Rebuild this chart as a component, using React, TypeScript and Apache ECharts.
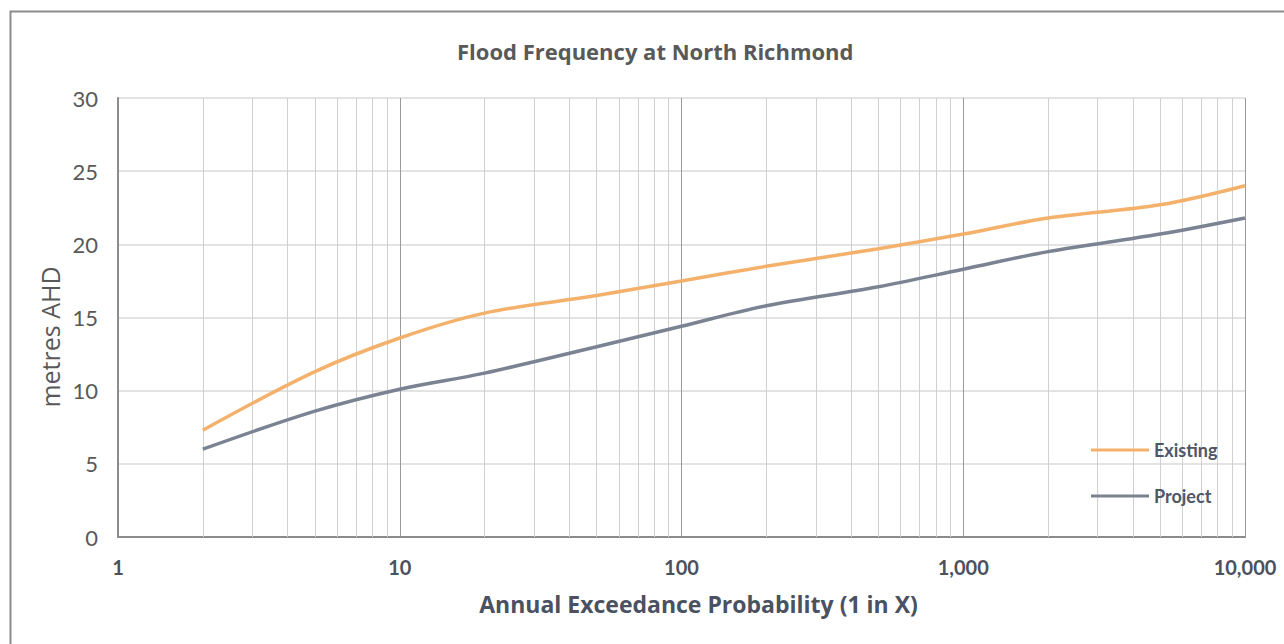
import React, { useEffect, useRef } from "react";
import * as echarts from "echarts";

const aepX = [2, 5, 10, 20, 50, 100, 200, 500, 1000, 2000, 5000, 10000];
const existing = [7.3, 11.3, 13.6, 15.3, 16.5, 17.5, 18.5, 19.7, 20.7, 21.8, 22.7, 24.0];
const project = [6.0, 8.6, 10.1, 11.2, 13.0, 14.4, 15.8, 17.1, 18.3, 19.5, 20.7, 21.8];
const minorGridX = [
  2, 3, 4, 5, 6, 7, 8, 9,
  20, 30, 40, 50, 60, 70, 80, 90,
  200, 300, 400, 500, 600, 700, 800, 900,
  2000, 3000, 4000, 5000, 6000, 7000, 8000, 9000,
];
const yTicks = [0, 5, 10, 15, 20, 25, 30];

const FONT = "Lato, 'Open Sans', sans-serif";
const WIDE = "'Open Sans', Lato, sans-serif";

export default function App() {
  const ref = useRef<HTMLDivElement>(null);
  useEffect(() => {
    if (!ref.current) return;
    const chart = echarts.init(ref.current, undefined, { renderer: "svg" });
    const option: any = {
      animation: false,
      backgroundColor: "#ffffff",
      textStyle: { fontFamily: FONT },
      title: {
        text: "Flood Frequency at North Richmond",
        left: 452,
        top: 35,
        textStyle: { fontFamily: WIDE, fontSize: 22, fontWeight: "bold", color: "#595959" },
      },
      graphic: [
        {
          type: "rect",
          shape: { x: 10.5, y: 11.5, width: 1320, height: 700 },
          style: { fill: "none", stroke: "#8c8c8c", lineWidth: 2 },
          silent: true,
          z: 0,
        },
        {
          type: "text",
          x: 50,
          y: 337,
          rotation: Math.PI / 2,
          silent: true,
          style: {
            text: "metres AHD",
            fontFamily: WIDE,
            fontSize: 25,
            fill: "#595959",
            align: "center",
            verticalAlign: "middle",
          },
        },
      ],
      legend: {
        orient: "vertical",
        left: 1086,
        top: 435,
        icon: "rect",
        itemWidth: 58,
        itemHeight: 3,
        itemGap: 26,
        textStyle: { fontFamily: FONT, fontSize: 18, fontWeight: "bold", color: "#4f5665", lineHeight: 20 },
        data: ["Existing", "Project"],
      },
      grid: { left: 118, top: 98, width: 1127, height: 439, containLabel: false },
      xAxis: {
        type: "log",
        logBase: 10,
        min: 1,
        max: 10000,
        name: "Annual Exceedance Probability (1 in X)",
        nameLocation: "middle",
        nameGap: 55,
        nameTextStyle: {
          fontFamily: WIDE,
          fontSize: 23,
          fontWeight: "bold",
          color: "#4a5160",
          padding: [0, 0, 0, 34],
        },
        axisLine: { show: true, lineStyle: { color: "#8c8c8c", width: 2 } },
        axisTick: { show: false },
        axisLabel: {
          margin: 20,
          fontFamily: FONT,
          fontSize: 20,
          fontWeight: "bold",
          color: "#4a5160",
          formatter: (v: number) => Math.round(v).toLocaleString("en-US"),
        },
        splitLine: { show: true, lineStyle: { color: "#9a9a9a", width: 1 } },
      },
      yAxis: {
        type: "value",
        min: 0,
        max: 30,
        interval: 5,
        axisLine: { show: true, lineStyle: { color: "#8c8c8c", width: 2 } },
        axisTick: { show: false },
        axisLabel: {
          margin: 20,
          fontFamily: FONT,
          fontSize: 22,
          color: "#595959",
          formatter: (v: number) => (yTicks.includes(v) ? String(v) : ""),
        },
        splitLine: { show: true, lineStyle: { color: "#e3e3e3", width: 2 } },
      },
      series: [
        {
          name: "Existing",
          type: "line",
          smooth: 0.35,
          symbol: "none",
          z: 5,
          data: aepX.map((x, i) => [x, existing[i]]),
          lineStyle: { color: "#f4b16b", width: 3.5 },
          itemStyle: { color: "#f4b16b" },
          markLine: {
            silent: true,
            symbol: "none",
            label: { show: false },
            z: 1,
            lineStyle: { color: "#d0d0d0", width: 1, type: "solid" },
            data: minorGridX.map((v) => ({ xAxis: v })),
          },
        },
        {
          name: "Project",
          type: "line",
          smooth: 0.35,
          symbol: "none",
          z: 5,
          data: aepX.map((x, i) => [x, project[i]]),
          lineStyle: { color: "#7b8393", width: 3.5 },
          itemStyle: { color: "#7b8393" },
        },
      ],
    };
    chart.setOption(option);
    return () => chart.dispose();
  }, []);
  return (
    <div
      ref={ref}
      style={{ position: "fixed", left: 0, top: 0, width: 1284, height: 644, background: "#fff" }}
    />
  );
}
